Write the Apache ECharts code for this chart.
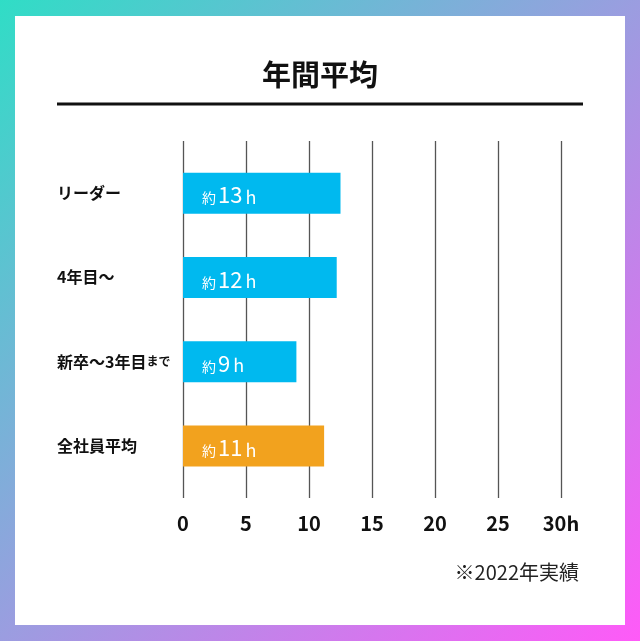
<!DOCTYPE html>
<html>
<head>
<meta charset="utf-8">
<script src="https://cdn.jsdelivr.net/npm/echarts@6/dist/echarts.min.js"></script>
<style>
  html, body { margin: 0; padding: 0; }
  #chart { width: 640px; height: 641px; }
</style>
</head>
<body>
<div id="chart"></div>
<script>
// データ
const categories = ['リーダー', '4年目〜', '新卒〜3年目まで', '全社員平均'];
const hours = [12.5, 12.2, 9.0, 11.2];
const barLabels = ['13', '12', '9', '11']; // バー内の表示（約○h）
const xTickLabels = ['0', '5', '10', '15', '20', '25', '30h'];

const FONT = '"Noto Sans CJK JP", "Noto Sans", sans-serif';
const BLUE = '#00b9ef';
const ORANGE = '#f2a21e';

const chart = echarts.init(document.getElementById('chart'));

const option = {
  backgroundColor: new echarts.graphic.LinearGradient(0, 0, 1, 1, [
    { offset: 0, color: '#30ddc6' },
    { offset: 0.5, color: '#9b9de0' },
    { offset: 1, color: '#ff5af8' }
  ]),
  textStyle: { fontFamily: FONT },
  title: [
    {
      text: '年間平均',
      left: 'center',
      top: 55,
      textStyle: { fontSize: 29, fontWeight: 'bold', color: '#111', fontFamily: FONT }
    },
    {
      text: '※2022年実績',
      right: 56,
      top: 557,
      textStyle: { fontSize: 20, fontWeight: 'normal', color: '#222', fontFamily: FONT }
    }
  ],
  graphic: {
    elements: [
      {
        type: 'rect',
        z: -10,
        shape: { x: 15, y: 16, width: 610, height: 609 },
        style: { fill: '#fff' }
      },
      {
        type: 'line',
        shape: { x1: 57, y1: 104, x2: 583, y2: 104 },
        style: { stroke: '#111', lineWidth: 3 }
      }
    ]
  },
  grid: [
    // 目盛り線用（バーより上下に少し長い）
    { left: 183, top: 141, width: 378, height: 357 },
    // バー用
    { left: 183, top: 151, width: 378, height: 337 }
  ],
  xAxis: [
    {
      gridIndex: 0,
      type: 'value',
      min: 0,
      max: 30,
      interval: 5,
      axisLine: { show: false },
      axisTick: { show: false },
      splitLine: { show: true, lineStyle: { color: '#555', width: 1.3 } },
      axisLabel: {
        margin: 15,
        fontSize: 20,
        fontWeight: 'bold',
        color: '#111',
        fontFamily: FONT,
        formatter: v => xTickLabels[v / 5]
      }
    },
    {
      gridIndex: 1,
      type: 'value',
      min: 0,
      max: 30,
      show: false
    }
  ],
  yAxis: [
    {
      gridIndex: 0,
      type: 'value',
      show: false
    },
    {
      gridIndex: 1,
      type: 'category',
      inverse: true,
      data: categories,
      axisLine: { show: false },
      axisTick: { show: false },
      axisLabel: {
        align: 'left',
        margin: 126,
        fontSize: 16,
        fontWeight: 'bold',
        color: '#111',
        fontFamily: FONT,
        formatter: v => v.endsWith('まで') ? '{a|' + v.slice(0, -2) + '}{b|まで}' : v,
        rich: {
          a: { fontSize: 16, fontWeight: 'bold', color: '#111', fontFamily: FONT },
          b: { fontSize: 12, fontWeight: 'bold', color: '#111', fontFamily: FONT }
        }
      }
    }
  ],
  series: [
    {
      type: 'bar',
      xAxisIndex: 1,
      yAxisIndex: 1,
      barWidth: 41,
      data: hours.map((v, i) => ({
        value: v,
        itemStyle: { color: i === hours.length - 1 ? ORANGE : BLUE }
      })),
      label: {
        show: true,
        position: 'insideLeft',
        distance: 19,
        offset: [0, 2],
        formatter: p => '{s|約}{n|' + barLabels[p.dataIndex] + '}{h|h}',
        rich: {
          s: { fontSize: 14, color: '#fff', fontFamily: FONT, verticalAlign: 'bottom', padding: [0, 2, 1, 0] },
          n: { fontSize: 22, color: '#fff', fontFamily: FONT, verticalAlign: 'bottom', padding: [0, 3, 0, 0] },
          h: { fontSize: 18, color: '#fff', fontFamily: FONT, verticalAlign: 'bottom' }
        }
      }
    }
  ]
};

chart.setOption(option);
</script>
</body>
</html>
